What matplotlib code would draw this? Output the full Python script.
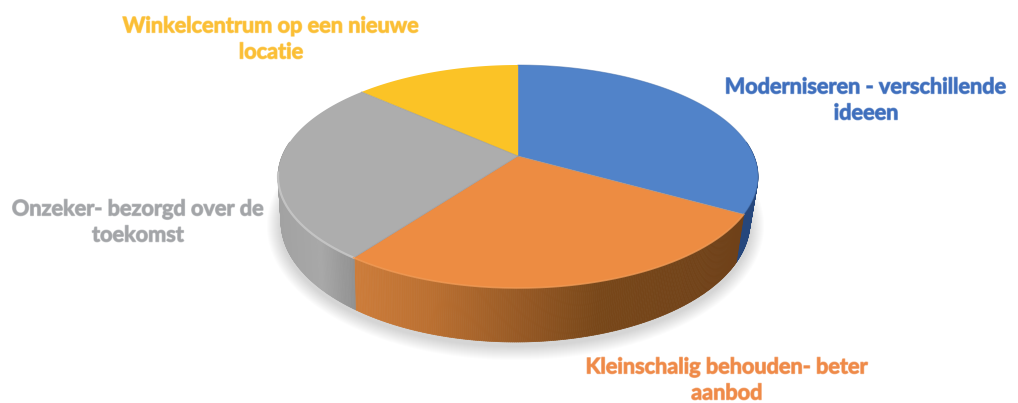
import numpy as np
import matplotlib
matplotlib.use("Agg")
import matplotlib.pyplot as plt
import matplotlib.patheffects as pe
from matplotlib.collections import PolyCollection
from matplotlib.colors import to_rgb

labels = ["Moderniseren - verschillende\nideeen",
          "Kleinschalig behouden- beter\naanbod",
          "Onzeker- bezorgd over de\ntoekomst",
          "Winkelcentrum op een nieuwe\nlocatie"]
values = [30.5, 31.5, 26.7, 11.3]
top_colors = ["#5183c9", "#ed8c42", "#adadad", "#fbc326"]
text_colors = ["#3f6fbd", "#ef8a48", "#a3a5a8", "#fbbf35"]
label_pos = [(866, 100), (727, 380), (138, 222), (271, 39)]

# pie geometry in image pixels (y goes down)
cx, apex_y = 518, 156
top_y, top_rx, top_ry = 176.5, 240, 111.5
bot_cx, bot_y, bot_rx, bot_ry = 515.5, 222, 234.5, 120


def top_rim(t):
    return cx + top_rx * np.sin(t), top_y - top_ry * np.cos(t)


def bot_rim(t):
    return bot_cx + bot_rx * np.sin(t), bot_y - bot_ry * np.cos(t)


def side_color(i, x):
    # the lighting on the wall of the pie runs left to right
    if i == 0:
        return to_rgb("#26477c")
    if i == 1:
        stops = [357, 430, 520, 600, 745]
        cols = ["#cc7c3a", "#bb7031", "#985a25", "#784719", "#6f4119"]
    else:
        stops = [278, 320, 357]
        cols = ["#a2a2a2", "#a8a8a8", "#8f8f8f"]
    rgb = np.array([to_rgb(c) for c in cols])
    return tuple(np.interp(x, stops, rgb[:, k]) for k in range(3))


fig = plt.figure(figsize=(10.18, 4.03), dpi=100)
ax = fig.add_axes([0, 0, 1, 1])
ax.set_xlim(0, 1018)
ax.set_ylim(403, 0)
ax.axis("off")

edges = np.radians(np.cumsum([0] + values) / sum(values) * 360)

# soft shadow under the pie
tt = np.linspace(0, 2 * np.pi, 200)
for grow in range(14, 0, -1):
    ax.fill(bot_cx + (bot_rx + grow) * np.sin(tt), bot_y + 4 + (bot_ry + grow) * np.cos(tt),
            color="#808080", alpha=0.022, lw=0, zorder=1)

# side wall
quads, cols = [], []
tv = np.radians(np.linspace(72, 288, 430))
for a, b in zip(tv[:-1], tv[1:]):
    mid = (a + b) / 2
    i = np.searchsorted(edges, mid) - 1
    x1, y1 = top_rim(a)
    x2, y2 = top_rim(b)
    x3, y3 = bot_rim(b)
    x4, y4 = bot_rim(a)
    quads.append([(x1, y1), (x2, y2), (x3, y3), (x4, y4)])
    cols.append(side_color(i, (x1 + x2) / 2))
ax.add_collection(PolyCollection(quads, facecolors=cols, edgecolors=cols, linewidths=0.5, zorder=2))

# top face slices
for i in range(len(values)):
    t = np.linspace(edges[i], edges[i + 1], 120)
    x, y = top_rim(t)
    ax.fill(np.r_[cx, x], np.r_[apex_y, y], color=top_colors[i], lw=0, zorder=3)
    # thin cool edge between slices
    ax.plot([cx, x[0]], [apex_y, y[0]], color="#8f97a3", lw=0.7, alpha=0.55, zorder=4)

# bevel highlight along the front rim
t = np.linspace(edges[2], np.radians(272), 150)
ax.plot(*top_rim(t), color="#c8c8c8", lw=1.6, alpha=0.85, zorder=5)
t = np.linspace(edges[1], edges[2], 200)
ax.plot(*top_rim(t), color="#f09a55", lw=1.2, alpha=0.8, zorder=5)
t = np.linspace(0, edges[1], 200)
ax.plot(*top_rim(t), color="#4a73ad", lw=0.7, alpha=0.5, zorder=5)

for lab, col, (lx, ly) in zip(labels, text_colors, label_pos):
    ax.text(lx, ly, lab, color=col, fontsize=15.6, fontweight="bold", family="Lato",
            ha="center", va="center", linespacing=1.3, zorder=6,
            path_effects=[pe.withStroke(linewidth=1.0, foreground=col, alpha=0.6)])

fig.savefig("out.png", dpi=100)
